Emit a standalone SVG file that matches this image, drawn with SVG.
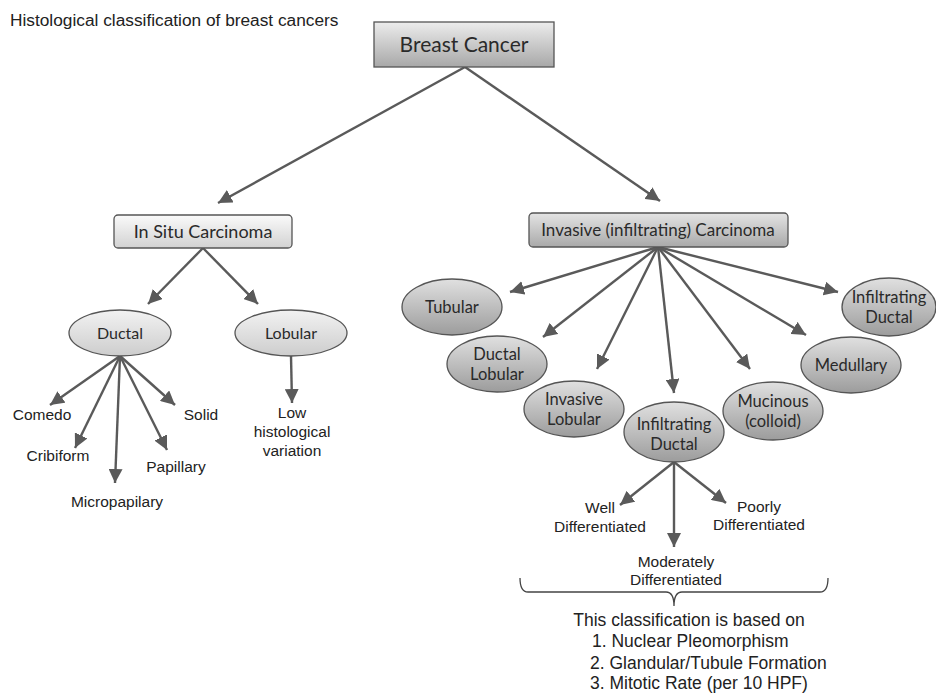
<svg xmlns="http://www.w3.org/2000/svg" width="936" height="693" viewBox="0 0 936 693">
<style>
.lbl{font-family:"Liberation Sans",Arial,sans-serif;font-size:15.5px;fill:#222;text-anchor:middle}
.nt{font-family:Lato,"Liberation Sans",sans-serif;fill:#2a2a2a;text-anchor:middle}
.con{stroke:#5a5a5a;stroke-width:2.4;fill:none;marker-end:url(#ah)}
.box{stroke:#555;stroke-width:1.3}
.ell{stroke:#555;stroke-width:1.3}
</style>
<defs>
<marker id="ah" markerUnits="userSpaceOnUse" markerWidth="16" markerHeight="14" refX="14" refY="7" orient="auto">
<path d="M0,0 L14,7 L0,14 Z" fill="#5a5a5a"/>
</marker>
<linearGradient id="gTop" x1="0" y1="0" x2="0" y2="1"><stop offset="0" stop-color="#ececec"/><stop offset="1" stop-color="#a8a8a8"/></linearGradient>
<linearGradient id="gLight" x1="0" y1="0" x2="0" y2="1"><stop offset="0" stop-color="#fafafa"/><stop offset="1" stop-color="#d2d2d2"/></linearGradient>
<linearGradient id="gMid" x1="0" y1="0" x2="0" y2="1"><stop offset="0" stop-color="#e4e4e4"/><stop offset="1" stop-color="#a9a9a9"/></linearGradient>
<linearGradient id="gEL" x1="0" y1="0" x2="0" y2="1"><stop offset="0" stop-color="#f2f2f2"/><stop offset="1" stop-color="#cdcdcd"/></linearGradient>
<linearGradient id="gED" x1="0" y1="0" x2="0" y2="1"><stop offset="0" stop-color="#e0e0e0"/><stop offset="1" stop-color="#9c9c9c"/></linearGradient>
</defs>
<rect width="936" height="693" fill="#fff"/>
<text x="10" y="26" style="font-family:'Liberation Sans',Arial,sans-serif;font-size:17.3px;fill:#222">Histological classification of breast cancers</text>

<g id="connectors">
<line class="con" x1="465" y1="67" x2="218" y2="203"/>
<line class="con" x1="465" y1="67" x2="660" y2="201"/>
<line class="con" x1="203" y1="248" x2="148" y2="304"/>
<line class="con" x1="203" y1="248" x2="258" y2="304"/>
<line class="con" x1="120" y1="356" x2="50" y2="405"/>
<line class="con" x1="120" y1="356" x2="75" y2="448"/>
<line class="con" x1="120" y1="356" x2="115" y2="483"/>
<line class="con" x1="120" y1="356" x2="167" y2="450"/>
<line class="con" x1="120" y1="356" x2="175" y2="405"/>
<line class="con" x1="291" y1="356" x2="292" y2="403"/>
<line class="con" x1="658" y1="247" x2="510" y2="292"/>
<line class="con" x1="658" y1="247" x2="543" y2="337"/>
<line class="con" x1="658" y1="247" x2="597" y2="369"/>
<line class="con" x1="658" y1="247" x2="674" y2="393"/>
<line class="con" x1="658" y1="247" x2="750" y2="369"/>
<line class="con" x1="658" y1="247" x2="806" y2="335"/>
<line class="con" x1="658" y1="247" x2="838" y2="292"/>
<line class="con" x1="674" y1="462" x2="620" y2="505"/>
<line class="con" x1="674" y1="462" x2="674" y2="547"/>
<line class="con" x1="674" y1="462" x2="726" y2="503"/>
</g>

<g id="breast-cancer">
<rect class="box" x="374" y="22" width="180" height="45" fill="url(#gTop)"/>
<text class="nt" x="464" y="52" font-size="21">Breast Cancer</text>
</g>
<g id="in-situ">
<rect class="box" x="114" y="215" width="178" height="33" rx="4" fill="url(#gLight)"/>
<text class="nt" x="203" y="238" font-size="18">In Situ Carcinoma</text>
</g>
<g id="invasive">
<rect class="box" x="529" y="213" width="259" height="34" rx="4" fill="url(#gMid)"/>
<text class="nt" x="658" y="236" font-size="17">Invasive (infiltrating) Carcinoma</text>
</g>
<g id="ductal">
<ellipse class="ell" cx="120" cy="333" rx="51" ry="23" fill="url(#gEL)"/>
<text class="nt" x="120" y="339" font-size="16">Ductal</text>
</g>
<g id="lobular">
<ellipse class="ell" cx="291" cy="333" rx="56" ry="23" fill="url(#gEL)"/>
<text class="nt" x="291" y="339" font-size="16">Lobular</text>
</g>
<g id="comedo"><text class="lbl" x="42" y="420">Comedo</text></g>
<g id="cribiform"><text class="lbl" x="58" y="461">Cribiform</text></g>
<g id="micropapilary"><text class="lbl" x="117" y="507">Micropapilary</text></g>
<g id="papillary"><text class="lbl" x="176" y="472">Papillary</text></g>
<g id="solid"><text class="lbl" x="201" y="420">Solid</text></g>
<g id="low-variation"><text class="lbl" x="292" y="418">Low</text><text class="lbl" x="292" y="437">histological</text><text class="lbl" x="292" y="456">variation</text></g>

<g id="tubular">
<ellipse class="ell" cx="452" cy="307" rx="50" ry="28" fill="url(#gED)"/>
<text class="nt" x="452" y="313" font-size="16.5">Tubular</text>
</g>
<g id="ductal-lobular">
<ellipse class="ell" cx="497" cy="364" rx="50" ry="28" fill="url(#gED)"/>
<text class="nt" x="497" y="360" font-size="16.5">Ductal</text>
<text class="nt" x="497" y="380" font-size="16.5">Lobular</text>
</g>
<g id="invasive-lobular">
<ellipse class="ell" cx="574" cy="409" rx="50" ry="28" fill="url(#gED)"/>
<text class="nt" x="574" y="405" font-size="16.5">Invasive</text>
<text class="nt" x="574" y="425" font-size="16.5">Lobular</text>
</g>
<g id="infiltrating-ductal">
<ellipse class="ell" cx="674" cy="432" rx="50" ry="30" fill="url(#gED)"/>
<text class="nt" x="674" y="430" font-size="16.5">Infiltrating</text>
<text class="nt" x="674" y="450" font-size="16.5">Ductal</text>
</g>
<g id="mucinous">
<ellipse class="ell" cx="773" cy="411" rx="50" ry="29" fill="url(#gED)"/>
<text class="nt" x="773" y="407" font-size="16.5">Mucinous</text>
<text class="nt" x="773" y="427" font-size="16.5">(colloid)</text>
</g>
<g id="medullary">
<ellipse class="ell" cx="851" cy="365" rx="50" ry="28" fill="url(#gED)"/>
<text class="nt" x="851" y="371" font-size="16.5">Medullary</text>
</g>
<g id="infiltrating-ductal-2">
<ellipse class="ell" cx="889" cy="307" rx="47" ry="29" fill="url(#gED)"/>
<text class="nt" x="889" y="303" font-size="16.5">Infiltrating</text>
<text class="nt" x="889" y="323" font-size="16.5">Ductal</text>
</g>

<g id="well"><text class="lbl" x="600" y="513">Well</text><text class="lbl" x="600" y="532">Differentiated</text></g>
<g id="moderately"><text class="lbl" x="676" y="567">Moderately</text><text class="lbl" x="676" y="585">Differentiated</text></g>
<g id="poorly"><text class="lbl" x="759" y="512">Poorly</text><text class="lbl" x="759" y="530">Differentiated</text></g>

<g id="brace">
<path d="M520,578 Q520,592 528,592 L666,592 Q674,592 674,606 Q674,592 682,592 L820,592 Q828,592 828,578" fill="none" stroke="#444" stroke-width="1.3"/>
</g>
<g id="basis" style="font-family:'Liberation Sans',Arial,sans-serif;font-size:17.5px;fill:#222">
<text x="689" y="626" text-anchor="middle">This classification is based on</text>
<text x="592" y="647">1. Nuclear Pleomorphism</text>
<text x="590" y="669">2. Glandular/Tubule Formation</text>
<text x="590" y="689">3. Mitotic Rate (per 10 HPF)</text>
</g>
</svg>
